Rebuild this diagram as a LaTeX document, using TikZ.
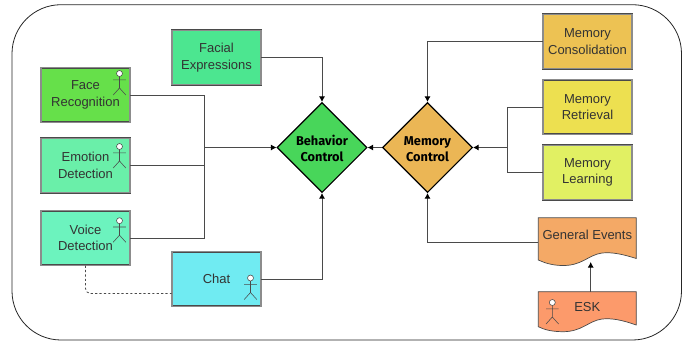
\documentclass[tikz,border=0pt]{standalone}
\usepackage{fontspec}
\setmainfont{Liberation Sans}
\newfontfamily\dfont{Fira Sans}
\usetikzlibrary{shapes.geometric,arrows.meta}
\definecolor{txt}{HTML}{333333}
\definecolor{ln}{HTML}{4A4A4A}
\definecolor{cgen}{HTML}{F4A966}
\definecolor{cesk}{HTML}{FC9A6B}
\definecolor{cface}{HTML}{66E04A}
\definecolor{cfacial}{HTML}{4CE690}
\definecolor{cemo}{HTML}{6AEFA9}
\definecolor{cvoice}{HTML}{6CF3BE}
\definecolor{cchat}{HTML}{70EBF2}
\definecolor{ccons}{HTML}{EDC253}
\definecolor{cretr}{HTML}{EDE050}
\definecolor{clearn}{HTML}{E1F063}
\definecolor{cbeh}{HTML}{48D65A}
\definecolor{cmem}{HTML}{EBB655}
\newcommand{\dstrut}{\rule{0pt}{12.5pt}}
\tikzset{
  x=1pt,y=-1pt,
  box/.style={draw=ln,line width=.6pt,double=black!45,double distance=1.2pt,minimum width=89pt,minimum height=54.5pt,
     inner sep=0pt,align=center,text=txt,font=\fontsize{13}{16.5}\selectfont,fill=#1},
  ctl/.style={diamond,aspect=1,draw=black,line width=1.1pt,inner sep=0pt,minimum width=90pt,minimum height=90pt,align=center,
     font=\dfont\bfseries\fontsize{12.8}{16.5}\selectfont,fill=#1},
  doctxt/.style={inner sep=0pt,minimum width=98pt,text=txt,font=\fontsize{13}{16}\selectfont},
  docshape/.style={draw=ln,line width=.7pt,fill=#1},
  conn/.style={draw=ln,line width=.9pt},
  arr/.style={conn,-{Latex[length=5.5pt,width=6pt,black]}},
  actor/.pic={
    \draw[ln,line width=.55pt,fill=white] (0,0) circle (3pt);
    \draw[ln,line width=.55pt] (0,3)--(0,14.5) (-6.3,6.3)--(6.3,6.3) (-6.3,21.5)--(0,14.5)--(6.3,21.5);
  }
}
\begin{document}
\begin{tikzpicture}
\useasboundingbox (0,0) rectangle (698,341);
\draw[line width=.8pt,draw=black!85,rounded corners=49pt] (12,4.7) rectangle (681.5,340);

\path[docshape=cgen] (538.3,217.8) -- (636.3,217.8) -- (636.3,258.5)
  .. controls (622,254) and (612,252) .. (602,253) .. controls (588,255) and (582,266) .. (562,265.5)
  .. controls (552,265.3) and (545,263) .. (538.3,260) -- cycle;
\path[docshape=cesk] (538.3,291.7) -- (636.3,291.7) -- (636.3,325)
  .. controls (622,320) and (612,318) .. (602,319) .. controls (588,321) and (582,332) .. (562,331.7)
  .. controls (552,331.5) and (545,330) .. (538.3,326.7) -- cycle;

\node[box=cface] (face) at (85.5,95) {Face\\Recognition};
\node[box=cfacial] (facial) at (216.5,57.5) {Facial\\Expressions};
\node[box=cemo] (emotion) at (85.5,165.5) {Emotion\\Detection};
\node[box=cvoice] (voice) at (85.5,238) {Voice\\Detection};
\node[box=cchat] (chat) at (216.5,279) {Chat};
\node[box=ccons] (cons) at (587.5,41.5) {Memory\\Consolidation};
\node[box=cretr] (retr) at (587.5,107) {Memory\\Retrieval};
\node[box=clearn] (learn) at (587.5,172.5) {Memory\\Learning};
\node[ctl=cbeh] (beh) at (322,147.5) {\dstrut Behavior\\Control};
\node[ctl=cmem] (mem) at (427.5,147.5) {\dstrut Memory\\Control};
\node[doctxt,minimum height=48pt] (gen) at (587.3,242) {\raisebox{14pt}{General Events}};
\node[doctxt,minimum height=30pt] (esk) at (587.3,306.7) {ESK};

\pic at (119.5,73.5) {actor};
\pic at (119.5,146.5) {actor};
\pic at (119.5,220.7) {actor};
\pic at (250.5,278) {actor};
\pic at (552.3,302.5) {actor};

\coordinate (jl) at (204,147.5);
\coordinate (jr) at (507,147.5);
\coordinate (gentip) at (590.7,262);
\coordinate (eskbase) at (590.7,291.7);

\draw[conn] (face.east) -| (jl);
\draw[conn] (emotion.east) -| (jl);
\draw[conn] (voice.east) -| (jl);
\draw[arr] (jl) -- (beh.west);
\draw[arr] (facial.east) -| (beh.north);
\draw[arr] (chat.east) -| (beh.south);
\draw[arr] (mem.west) -- (beh.east);
\draw[arr] (cons.west) -| (mem.north);
\draw[conn] (retr.west) -| (jr);
\draw[conn] (learn.west) -| (jr);
\draw[arr] (jr) -- (mem.east);
\draw[arr] (gen.west) -| (mem.south);
\draw[arr] (eskbase) -- (gentip);
\draw[draw=ln,line width=.8pt,dash pattern=on 2.2pt off 2.2pt,rounded corners=5pt] (voice.south) |- (chat.west |- 0,293.5);
\end{tikzpicture}
\end{document}
